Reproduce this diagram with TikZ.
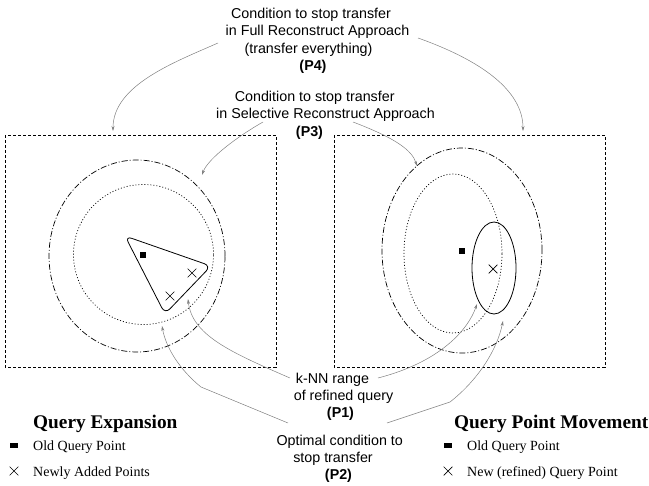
\documentclass[tikz,border=0pt]{standalone}
\usepackage{fontspec}
\setmainfont{Liberation Serif}
\setsansfont{Liberation Sans}
\usetikzlibrary{arrows.meta,shapes.misc}

\tikzset{
  frame/.style={draw, line width=0.7bp, dash pattern=on 3bp off 2bp},
  outerring/.style={draw, line width=0.7bp, dash pattern=on 6bp off 2bp on 1bp off 2bp},
  innerring/.style={draw, line width=0.7bp, dash pattern=on 1bp off 2bp},
  region/.style={draw, line width=0.8bp},
  lbl/.style={font=\sffamily\fontsize{14.3bp}{17.5bp}\selectfont, inner sep=0pt, anchor=base},
  heading/.style={font=\rmfamily\bfseries\fontsize{19.3bp}{22bp}\selectfont, inner sep=0pt, anchor=base west},
  legtext/.style={font=\rmfamily\fontsize{14bp}{16bp}\selectfont, inner sep=0pt, anchor=base west},
  pointer/.style={draw=black!50, line width=0.5bp, -{Stealth[length=5bp, width=3bp]}},
  oldpt/.style={fill=black, draw=none, minimum width=6bp, minimum height=6bp, inner sep=0pt},
  legsq/.style={fill=black, draw=none, minimum width=8bp, minimum height=5bp, inner sep=0pt},
  newpt/.style={cross out, draw, line width=0.7bp, minimum size=8bp, inner sep=0pt},
}

\begin{document}
\begin{tikzpicture}[x=1bp, y=-1bp]
\useasboundingbox (0,0) rectangle (649,486);

% ---------- left panel: query expansion ----------
\draw[frame] (5,135) rectangle (276,367);
\draw[outerring] (137,256) ellipse [x radius=88bp, y radius=96bp];
\draw[innerring] (143.5,254.5) ellipse [x radius=70bp, y radius=70bp];
\draw[region, rounded corners=7bp] (168,251) -- (211,266) -- (165,314) -- (125,236) -- cycle;
\node[oldpt] (lold) at (143,255) {};
\node[newpt] (lnew1) at (192,273) {};
\node[newpt] (lnew2) at (170,296) {};

% ---------- right panel: query point movement ----------
\draw[frame] (334,135) rectangle (605,367);
\draw[outerring] (462,250.5) ellipse [x radius=80bp, y radius=102.5bp];
\draw[innerring] (453,253.5) ellipse [x radius=49bp, y radius=79.5bp];
\draw[region] (494,268) ellipse [x radius=22bp, y radius=46bp];
\node[oldpt] (rold) at (462,251) {};
\node[newpt] (rnew) at (493,269) {};

% ---------- labels, one node per line ----------
\node[lbl] (p4a) at (311,19)   {Condition to stop transfer};
\node[lbl] (p4b) at (317.5,36) {in Full Reconstruct Approach};
\node[lbl] (p4c) at (308.5,53.5) {(transfer everything)};
\node[lbl] (p4d) at (313,71)   {\textbf{(P4)}};

\node[lbl] (p3a) at (314.7,101.5) {Condition to stop transfer};
\node[lbl] (p3b) at (325.5,118.5) {in Selective Reconstruct Approach};
\node[lbl] (p3c) at (309.5,136.5) {\textbf{(P3)}};

\node[lbl] (p1a) at (332.5,383) {k-NN range};
\node[lbl] (p1b) at (343.5,400) {of refined query};
\node[lbl] (p1c) at (340.5,417) {\textbf{(P1)}};

\node[lbl] (p2a) at (339.7,445) {Optimal condition to};
\node[lbl] (p2b) at (333,462)   {stop transfer};
\node[lbl] (p2c) at (338.5,479) {\textbf{(P2)}};

% ---------- legends ----------
\node[heading] (qe) at (33,428) {Query Expansion};
\node[legsq] (lsq) at (14,445) {};
\node[legtext] (lt1) at (33,450) {Old Query Point};
\node[newpt] (lx) at (14,471) {};
\node[legtext] (lt2) at (33,476) {Newly Added Points};

\node[heading] (qpm) at (454,428) {Query Point Movement};
\node[legsq] (rsq) at (448,445) {};
\node[legtext] (rt1) at (467,450) {Old Query Point};
\node[newpt] (rx) at (448,471) {};
\node[legtext] (rt2) at (467,476) {New (refined) Query Point};

% ---------- pointer ends ----------
\coordinate (p4l) at (218,43);   \coordinate (t4l) at (113,131);
\coordinate (p4r) at (418,38);   \coordinate (t4r) at (523,131);
\coordinate (p3l) at (263,122);  \coordinate (t3l) at (202,175);
\coordinate (p3r) at (353,122);  \coordinate (t3r) at (417,166);
\coordinate (p1l) at (290,378);  \coordinate (t1l) at (188,299);
\coordinate (p1r) at (378,378);  \coordinate (t1r) at (477,304);
\coordinate (p2l) at (288,423);  \coordinate (t2l) at (162,326);
\coordinate (p2r) at (387,423);  \coordinate (t2r) at (503,321);

\draw[pointer] (p4l) .. controls (175,62) and (113,85) .. (t4l);
\draw[pointer] (p4r) .. controls (480,60) and (523,90) .. (t4r);
\draw[pointer] (p3l) .. controls (240,135) and (208,158) .. (t3l);
\draw[pointer] (p3r) .. controls (395,138) and (412,150) .. (t3r);
\draw[pointer] (p1l) .. controls (230,352) and (192,335) .. (t1l);
\draw[pointer] (p1r) .. controls (440,362) and (468,330) .. (t1r);
\draw[pointer] (p2l) -- (201,387) .. controls (180,370) and (166,348) .. (t2l);
\draw[pointer] (p2r) -- (450,402) .. controls (478,380) and (497,350) .. (t2r);
\end{tikzpicture}
\end{document}
